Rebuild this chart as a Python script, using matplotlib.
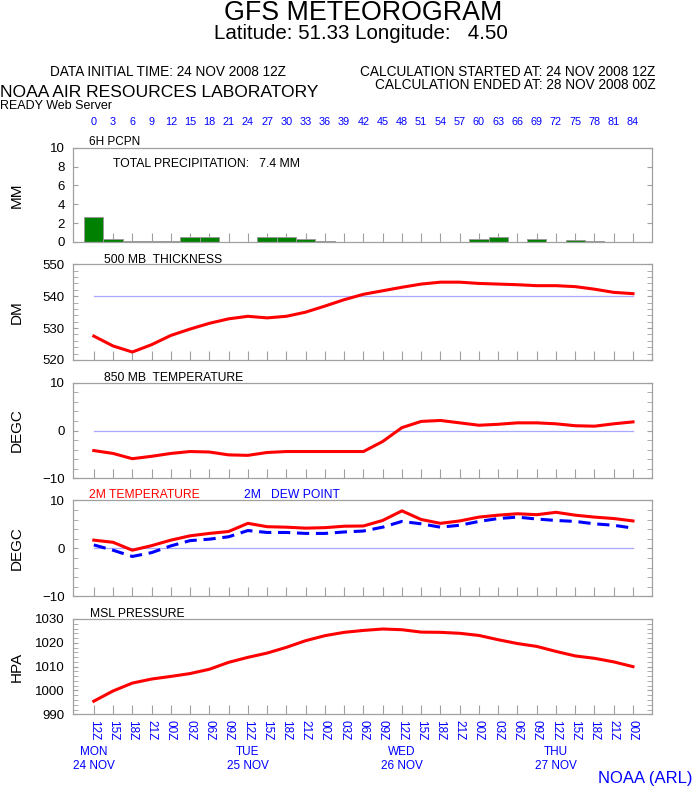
import matplotlib
matplotlib.use("Agg")
import matplotlib.pyplot as plt
import matplotlib.transforms as mtransforms

plt.rcParams['font.family'] = ['Liberation Sans', 'DejaVu Sans']

#
# Data
#

hours = list(range(0, 85, 3))

utc_labels = ["12Z", "15Z", "18Z", "21Z", "00Z", "03Z", "06Z", "09Z",
              "12Z", "15Z", "18Z", "21Z", "00Z", "03Z", "06Z", "09Z",
              "12Z", "15Z", "18Z", "21Z", "00Z", "03Z", "06Z", "09Z",
              "12Z", "15Z", "18Z", "21Z", "00Z"]

day_hours = [0, 24, 48, 72]
day_names = ["MON", "TUE", "WED", "THU"]
day_dates = ["24 NOV", "25 NOV", "26 NOV", "27 NOV"]

precip_mm = [2.7, 0.32, 0.14, 0.14, 0.14, 0.49, 0.49, 0.0, 0.0, 0.49,
             0.49, 0.32, 0.14, 0.0, 0.0, 0.0, 0.0, 0.0, 0.0, 0.0,
             0.32, 0.49, 0.0, 0.32, 0.0, 0.2, 0.14, 0.0, 0.0]

thickness_dm = [527.5, 524.4, 522.5, 524.8, 527.7, 529.7, 531.5, 532.9, 533.7, 533.2,
                533.7, 535.0, 536.9, 538.9, 540.6, 541.7, 542.8, 543.8, 544.4, 544.4,
                544.0, 543.8, 543.6, 543.3, 543.3, 543.0, 542.2, 541.2, 540.8]

t850 = [-4.2, -4.8, -5.9, -5.4, -4.8, -4.4, -4.5, -5.1, -5.2, -4.6,
        -4.4, -4.4, -4.4, -4.4, -4.4, -2.3, 0.6, 1.9, 2.1, 1.6,
        1.1, 1.3, 1.6, 1.6, 1.4, 1.0, 0.9, 1.4, 1.8]

t2m = [1.7, 1.25, -0.4, 0.55, 1.7, 2.6, 3.1, 3.5, 5.2, 4.5,
       4.4, 4.2, 4.3, 4.6, 4.65, 5.8, 7.8, 6.0, 5.2, 5.7,
       6.5, 6.9, 7.2, 7.0, 7.5, 6.9, 6.5, 6.2, 5.7]

dewpoint = [0.7, -0.4, -1.7, -0.9, 0.5, 1.6, 1.9, 2.4, 3.7, 3.3,
            3.3, 3.1, 3.1, 3.4, 3.6, 4.4, 5.6, 5.1, 4.4, 4.8,
            5.6, 6.2, 6.5, 6.1, 5.8, 5.6, 5.1, 4.8, 4.2]

mslp = [995.5, 999.8, 1003.1, 1004.8, 1005.9, 1007.1, 1008.9, 1011.8, 1013.9, 1015.7,
        1018.1, 1020.9, 1023.0, 1024.4, 1025.2, 1025.8, 1025.5, 1024.5, 1024.4, 1024.0,
        1023.1, 1021.3, 1019.7, 1018.5, 1016.4, 1014.5, 1013.5, 1012.0, 1010.0]

#
# Layout helpers (pixels of a 694x787 picture)
#

W, H = 694, 787
RED = "#ff0000"
BLUE = "#0000ff"
GREEN = "#008000"
GRAY = "#a0a0a0"
REFBLUE = "#a8a8ff"


def fx(x):
    return x / W


def fy(y):
    return 1 - y / H


fig = plt.figure(figsize=(W / 100, H / 100), dpi=100)

ax_left, ax_right = 73, 652
panels_px = [(147.7, 242.0), (264.3, 360.0), (382.7, 478.3), (500.3, 596.3), (619.0, 714.3)]

axes = []
for top, bottom in panels_px:
    ax = fig.add_axes([fx(ax_left), fy(bottom), fx(ax_right - ax_left), (bottom - top) / H])
    ax.set_xlim(-3.24, 86.96)
    ax.set_xticks(hours)
    ax.tick_params(axis="x", direction="in", length=6.5, color=GRAY, width=0.8,
                   labelbottom=False)
    ax.tick_params(axis="y", direction="in", length=3.6, color=GRAY, width=0.8,
                   right=True, labelsize=9.5, pad=6)
    for s in ax.spines.values():
        s.set_color(GRAY)
        s.set_linewidth(0.9)
    axes.append(ax)

ax1, ax2, ax3, ax4, ax5 = axes

# Precipitation
ax1.bar(hours, precip_mm, width=3, color=GREEN, edgecolor="#9a9a9a", linewidth=0.7, zorder=2)
ax1.set_ylim(0, 10)
ax1.set_yticks(range(0, 11, 2))

# 500 mb thickness
ax2.plot([hours[0], hours[-1]], [540, 540], color=REFBLUE, linewidth=0.9)
ax2.plot(hours, thickness_dm, color=RED, linewidth=2.2)
ax2.set_ylim(520, 550)
ax2.set_yticks(range(520, 551, 2), minor=True)
ax2.set_yticks([520, 530, 540, 550])
ax2.tick_params(axis="y", which="minor", direction="in", length=3.6, color=GRAY, right=True)

# 850 mb temperature
ax3.plot([hours[0], hours[-1]], [0, 0], color=REFBLUE, linewidth=0.9)
ax3.plot(hours, t850, color=RED, linewidth=2.2)
ax3.set_ylim(-10, 10)
ax3.set_yticks(range(-10, 11, 2), minor=True)
ax3.set_yticks([-10, 0, 10])
ax3.tick_params(axis="y", which="minor", direction="in", length=3.6, color=GRAY, right=True)

# 2m temperature and dew point
ax4.plot([hours[0], hours[-1]], [0, 0], color=REFBLUE, linewidth=0.9)
ax4.plot(hours, t2m, color=RED, linewidth=2.2)
ax4.plot(hours, dewpoint, color=BLUE, linewidth=2.2, dashes=(4, 2.2))
ax4.set_ylim(-10, 10)
ax4.set_yticks(range(-10, 11, 2), minor=True)
ax4.set_yticks([-10, 0, 10])
ax4.tick_params(axis="y", which="minor", direction="in", length=3.6, color=GRAY, right=True)

# MSL pressure
ax5.plot(hours, mslp, color=RED, linewidth=2.2)
ax5.set_ylim(990, 1030)
ax5.set_yticks(range(990, 1031, 2), minor=True)
ax5.set_yticks(range(990, 1031, 10))
ax5.tick_params(axis="y", which="minor", direction="in", length=3.6, color=GRAY, right=True)
ax5.set_xticklabels(utc_labels, rotation=270, color=BLUE, fontsize=8.5)
ax5.tick_params(axis="x", labelbottom=True, pad=4)

# day labels under the bottom panel
day_tr = mtransforms.blended_transform_factory(ax5.transData, fig.transFigure)
for h, name, date in zip(day_hours, day_names, day_dates):
    fig.text(h, fy(755), name, transform=day_tr, ha="center", va="baseline",
             color=BLUE, fontsize=8.5)
    fig.text(h, fy(769), date, transform=day_tr, ha="center", va="baseline",
             color=BLUE, fontsize=8.5)

# forecast hour labels above the top panel
for h in hours:
    fig.text(h, fy(125), str(h), transform=day_tr, ha="center", va="baseline",
             color=BLUE, fontsize=7.8)

# y axis titles
for ax, (top, bottom), name in zip(axes, panels_px, ["MM", "DM", "DEGC", "DEGC", "HPA"]):
    fig.text(fx(17), fy((top + bottom) / 2), name, rotation=90, ha="center", va="center",
             fontsize=11)

# panel titles
fig.text(fx(88.8), fy(145), "6H PCPN", fontsize=8.5, va="baseline")
fig.text(fx(112.7), fy(167), "TOTAL PRECIPITATION:   7.4 MM", fontsize=8.8, va="baseline")
fig.text(fx(104), fy(262.7), "500 MB  THICKNESS", fontsize=8.7, va="baseline")
fig.text(fx(104.4), fy(381), "850 MB  TEMPERATURE", fontsize=8.7, va="baseline")
fig.text(fx(89), fy(498.3), "2M TEMPERATURE", fontsize=8.7, va="baseline", color=RED)
fig.text(fx(243.6), fy(498.3), "2M   DEW POINT", fontsize=8.7, va="baseline", color=BLUE)
fig.text(fx(90), fy(617), "MSL PRESSURE", fontsize=8.7, va="baseline")

# header
fig.text(fx(363), fy(20), "GFS METEOROGRAM", ha="center", va="baseline", fontsize=19.3)
fig.text(fx(361), fy(39.3), "Latitude: 51.33 Longitude:   4.50", ha="center", va="baseline",
         fontsize=14.8)
fig.text(fx(50), fy(76), "DATA INITIAL TIME: 24 NOV 2008 12Z", va="baseline", fontsize=9.8)
fig.text(fx(655.5), fy(76), "CALCULATION STARTED AT: 24 NOV 2008 12Z", ha="right",
         va="baseline", fontsize=9.8)
fig.text(fx(655.5), fy(89), "CALCULATION ENDED AT: 28 NOV 2008 00Z", ha="right",
         va="baseline", fontsize=9.8)
fig.text(fx(0), fy(97), "NOAA AIR RESOURCES LABORATORY", va="baseline", fontsize=12.6)
fig.text(fx(0), fy(109), "READY Web Server", va="baseline", fontsize=9)
fig.text(fx(693), fy(783), "NOAA (ARL)", ha="right", va="baseline", fontsize=12, color=BLUE)

fig.savefig("out.png", dpi=100)
